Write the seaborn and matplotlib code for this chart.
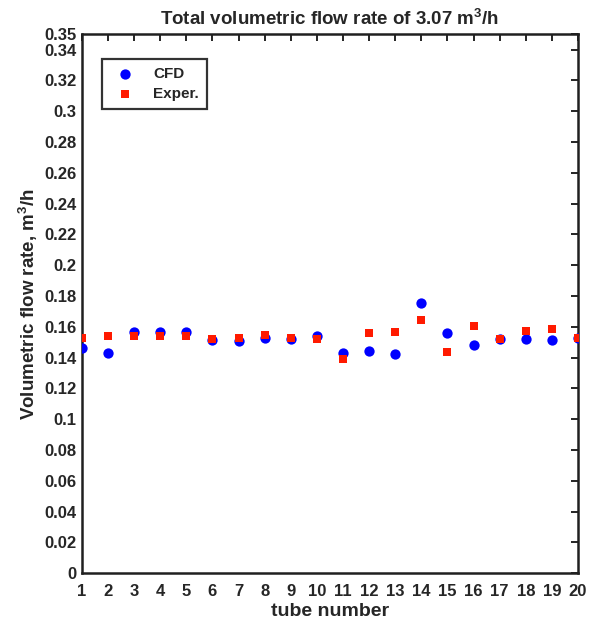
import numpy as np
import pandas as pd
import matplotlib
matplotlib.use("Agg")
import matplotlib.pyplot as plt
import seaborn as sns

tubes = list(range(1, 21))
cfd = [0.1460, 0.1427, 0.1568, 0.1564, 0.1568, 0.1514, 0.1505, 0.1529, 0.1518, 0.1542,
       0.1427, 0.1442, 0.1423, 0.1752, 0.1561, 0.1480, 0.1522, 0.1522, 0.1514, 0.1525]
exper = [0.1525, 0.1540, 0.1540, 0.1540, 0.1540, 0.1518, 0.1529, 0.1550, 0.1525, 0.1518,
         0.1392, 0.1561, 0.1566, 0.1645, 0.1436, 0.1605, 0.1522, 0.1570, 0.1583, 0.1525]
series_names = ["CFD", "Exper."]
ytick_vals = [0, 0.02, 0.04, 0.06, 0.08, 0.1, 0.12, 0.14, 0.16, 0.18, 0.2, 0.22, 0.24,
              0.26, 0.28, 0.3, 0.32, 0.34, 0.35]
ytick_labels = ["0", "0.02", "0.04", "0.06", "0.08", "0.1", "0.12", "0.14", "0.16", "0.18",
                "0.2", "0.22", "0.24", "0.26", "0.28", "0.3", "0.32", "0.34", "0.35"]

sns.set_style("white")
plt.rcParams["font.family"] = ["Liberation Sans", "DejaVu Sans"]
plt.rcParams["font.weight"] = "bold"
plt.rcParams["mathtext.fontset"] = "custom"
plt.rcParams["mathtext.rm"] = "Liberation Sans:bold"
plt.rcParams["mathtext.bf"] = "Liberation Sans:bold"
plt.rcParams["mathtext.default"] = "bf"

df_cfd = pd.DataFrame({"tube": tubes, "rate": cfd})
df_exp = pd.DataFrame({"tube": tubes, "rate": exper})

fig = plt.figure(figsize=(5.94, 6.23), dpi=100)
ax = fig.add_axes([0.138, 0.080, 0.835, 0.865])

sns.scatterplot(data=df_cfd, x="tube", y="rate", color="#0000FF", marker="o",
                s=55, linewidth=0, ax=ax, zorder=3, label=series_names[0])
sns.scatterplot(data=df_exp, x="tube", y="rate", color="#FF1A00", marker="s",
                s=36, linewidth=0, ax=ax, zorder=4, label=series_names[1])

ax.set_xlim(1, 20)
ax.set_ylim(0, 0.35)
ax.set_xticks(tubes)
ax.set_xticklabels([str(t) for t in tubes], fontsize=12, fontweight="bold")
ax.set_yticks(ytick_vals)
ax.set_yticklabels(ytick_labels, fontsize=12, fontweight="bold")
ax.tick_params(direction="in", top=True, right=True, length=5, width=1.2, color="black")
ax.tick_params(axis="x", pad=8)
ax.tick_params(axis="y", pad=4)
for sp in ax.spines.values():
    sp.set_linewidth(1.8)
    sp.set_color("#202020")

ax.set_xlabel("tube number", fontsize=14, fontweight="bold", labelpad=3)
ax.set_ylabel("Volumetric flow rate, m$^3$/h", fontsize=13.5, fontweight="bold", labelpad=3)
ax.set_title("Total volumetric flow rate of 3.07 m$^3$/h", fontsize=13.5, fontweight="bold", pad=7)

handles, labels = ax.get_legend_handles_labels()
leg = ax.legend(handles, labels, loc="upper left", bbox_to_anchor=(0.040, 0.955),
                fontsize=11, frameon=True, fancybox=False, edgecolor="black",
                borderpad=0.55, handletextpad=0.8, labelspacing=0.4, markerscale=1.0,
                borderaxespad=0)
leg.get_frame().set_linewidth(1.6)
for t in leg.get_texts():
    t.set_fontweight("bold")

fig.savefig("out.png", dpi=100, facecolor="white")
